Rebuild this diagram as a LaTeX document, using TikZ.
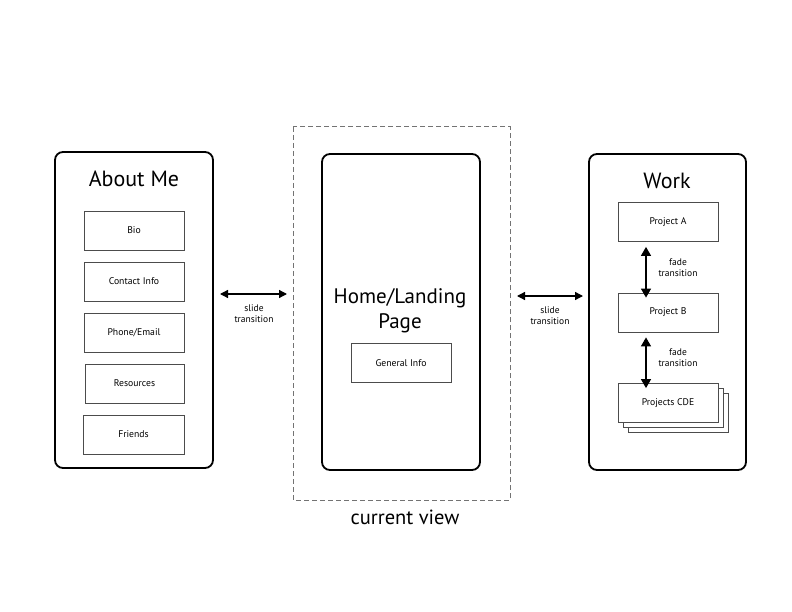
\documentclass[tikz,border=0pt]{standalone}
\usepackage{fontspec}
\setmainfont{PT Sans}
\usetikzlibrary{arrows.meta}
\begin{document}
\begin{tikzpicture}[x=1pt,y=-1pt,
  page/.style={draw=black,line width=1.8pt,rounded corners=8pt},
  item/.style={draw=black!70,line width=0.8pt,fill=white,minimum width=100pt,minimum height=39pt,inner sep=0pt,font=\fontsize{9.7}{11}\selectfont},
  title/.style={font=\fontsize{22}{26}\selectfont,align=center},
  lbl/.style={font=\fontsize{9.5}{11}\selectfont,align=center},
  biarrow/.style={{Triangle[length=8pt,width=8pt]}-{Triangle[length=8pt,width=8pt]},line width=1.3pt},
  vbiarrow/.style={{Triangle[length=9pt,width=10pt]}-{Triangle[length=9pt,width=10pt]},line width=1.3pt}
]
\useasboundingbox (0,0) rectangle (792,612);
\fill[white] (0,0) rectangle (792,612);
% About Me
\draw[page] (55,152) rectangle (213,468);
\node[title] (abt) at (134,179) {About Me};
\node[item] (bio) at (134,230.5) {Bio};
\node[item] (contact) at (134,281.5) {Contact Info};
\node[item] (phone) at (134,332.5) {Phone/Email};
\node[item,minimum width=99pt] (res) at (134.5,383.5) {Resources};
\node[item,minimum width=101pt] (friends) at (133.5,434.5) {Friends};
% current view
\draw[draw=black!55,line width=1pt,dash pattern=on 5pt off 3pt] (293,127) rectangle (510,500);
\node[font=\fontsize{20.5}{24}\selectfont] (cv) at (405,517) {current view};
\draw[page] (322,154) rectangle (480,470);
\node[title,font=\fontsize{21}{25}\selectfont] (home) at (400,311) {Home/Landing\\Page};
\node[item] (gen) at (401,363) {General Info};
% slide arrows
\coordinate (la) at (220,294);
\coordinate (lb) at (287,294);
\draw[biarrow] (la) -- (lb);
\node[lbl] (lt) at (254,314) {slide\\transition};
\coordinate (ra) at (517,296);
\coordinate (rb) at (583,296);
\draw[biarrow] (ra) -- (rb);
\node[lbl] (rt) at (550,316) {slide\\transition};
% Work
\draw[page] (589,154) rectangle (746,470);
\node[title] (work) at (667,181) {Work};
\node[item] (pa) at (668,222) {Project A};
\node[item] (pb) at (668,312.5) {Project B};
\node[item] (pc3) at (678,413) {};
\node[item] (pc2) at (673,408) {};
\node[item] (pc) at (668,403) {Projects CDE};
\draw[vbiarrow] ([xshift=-22pt]pa.south) ++(0,5) -- ([xshift=-22pt,yshift=-5pt]pb.north);
\node[lbl] (f1) at (678,268) {fade\\transition};
\draw[vbiarrow] ([xshift=-22pt]pb.south) ++(0,5) -- ([xshift=-22pt,yshift=-5pt]pc.north);
\node[lbl] (f2) at (678,358) {fade\\transition};
\end{tikzpicture}
\end{document}
